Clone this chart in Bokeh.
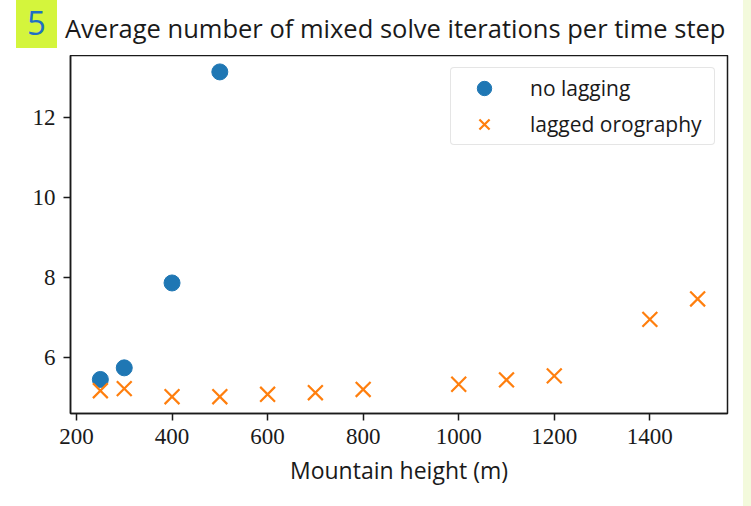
from bokeh.plotting import figure
from bokeh.models import Legend, LegendItem, FixedTicker, Div
from bokeh.layouts import column, row
from bokeh.embed import file_html
from bokeh.resources import INLINE

# Mountain heights (m) and mean mixed-solve iterations per time step
heights_no_lag = [250, 300, 400, 500]
iters_no_lag = [5.45, 5.74, 7.86, 13.13]

heights_lagged = [250, 300, 400, 500, 600, 700, 800, 1000, 1100, 1200, 1400, 1500]
iters_lagged = [5.17, 5.22, 5.02, 5.02, 5.08, 5.12, 5.20, 5.33, 5.44, 5.54, 6.95, 7.46]

x_ticks = [200, 400, 600, 800, 1000, 1200, 1400]
y_ticks = [6, 8, 10, 12]

title_text = "Average number of mixed solve iterations per time step"
badge_text = "5"
x_label = "Mountain height (m)"
series_names = ["no lagging", "lagged orography"]

HEADER_H = 55
STRIP_W = 8
FIG_W = 751 - STRIP_W
FIG_H = 506 - HEADER_H

p = figure(width=FIG_W, height=FIG_H, output_backend="svg", toolbar_location=None,
           x_range=(187.5, 1562.5), y_range=(4.6, 13.54),
           min_border_left=70, min_border_right=16, min_border_top=0, min_border_bottom=93,
           background_fill_color="white", border_fill_color="white", margin=0)
p.title.visible = False
p.grid.visible = False
p.outline_line_color = "#1a1a1a"
p.outline_line_width = 1.5

for ax in (p.xaxis[0], p.yaxis[0]):
    ax.axis_line_color = "#1a1a1a"
    ax.axis_line_width = 1.5
    ax.major_tick_line_color = "#1a1a1a"
    ax.major_tick_line_width = 1.5
    ax.major_tick_out = 7
    ax.major_tick_in = 0
    ax.minor_tick_line_color = None
    ax.major_label_text_font = "Liberation Serif"
    ax.major_label_text_font_size = "23px"
    ax.major_label_text_color = "#1a1a1a"

p.xaxis.ticker = FixedTicker(ticks=x_ticks)
p.yaxis.ticker = FixedTicker(ticks=y_ticks)
p.xaxis.major_label_standoff = 8
p.yaxis.major_label_standoff = 8
p.xaxis.axis_label = x_label
p.xaxis.axis_label_text_font = "Open Sans"
p.xaxis.axis_label_text_font_style = "normal"
p.xaxis.axis_label_text_font_size = "23px"
p.xaxis.axis_label_text_color = "#1a1a1a"
p.xaxis.axis_label_standoff = 7

r1 = p.scatter(heights_no_lag, iters_no_lag, marker="circle", size=16,
               fill_color="#1f77b4", line_color="#1f77b4")
r2 = p.scatter(heights_lagged, iters_lagged, marker="x", size=21,
               line_color="#ff7f0e", line_width=2.2)

legend = Legend(items=[LegendItem(label=series_names[0], renderers=[r1]),
                       LegendItem(label=series_names[1], renderers=[r2])],
                location="top_right", margin=12, padding=2, spacing=0,
                glyph_width=62, glyph_height=36, label_height=36,
                label_width=182, label_standoff=15,
                label_text_font="Open Sans", label_text_font_size="21px",
                label_text_color="#1a1a1a",
                border_line_color="#cccccc", border_line_width=1.5,
                border_radius=4, background_fill_color="white",
                background_fill_alpha=0.9)
p.add_layout(legend, "center")

# header with the numbered badge and the chart title
header_html = (
    '<div style="position:relative;width:%dpx;height:%dpx;background:white;">'
    '<div style="position:absolute;left:16px;top:0px;width:41px;height:48px;background:#d4f53c;"></div>'
    '<div style="position:absolute;left:16px;top:6px;width:41px;text-align:center;'
    'font-family:\'Open Sans\';font-size:33px;line-height:33px;color:#1f6fc4;">%s</div>'
    '<div style="position:absolute;left:65px;top:16px;white-space:nowrap;'
    'font-family:\'Open Sans\';font-size:25.5px;line-height:25.5px;color:#1a1a1a;">%s</div>'
    '</div>' % (FIG_W, HEADER_H, badge_text, title_text)
)
header = Div(text=header_html, width=FIG_W, height=HEADER_H, margin=0)

# pale side strip along the right edge
strip = Div(text="", width=STRIP_W, height=506, margin=0,
            styles={"background-color": "#f3fadc"})

layout = row(column(header, p, spacing=0, margin=0), strip, spacing=0, margin=0)

open("out.html", "w").write(file_html(layout, INLINE))
